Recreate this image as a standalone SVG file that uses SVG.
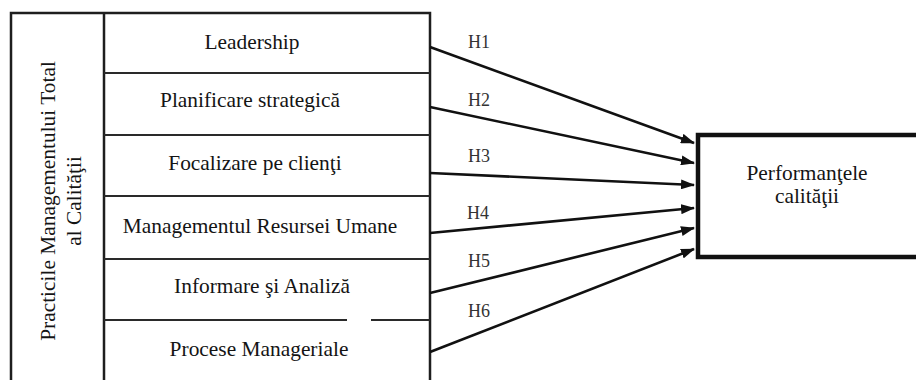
<svg xmlns="http://www.w3.org/2000/svg" width="916" height="380" viewBox="0 0 916 380">
  <style>
    .frame { fill: none; stroke: #1e1e1e; stroke-width: 2.5; }
    .div { stroke: #2a2a2a; stroke-width: 2.2; fill: none; }
    .lbl { font-family: 'Liberation Serif', 'DejaVu Serif', serif; font-size: 21.4px; fill: #141414; text-anchor: middle; }
    .hyp { font-family: 'Liberation Serif', 'DejaVu Serif', serif; font-size: 18px; fill: #333; }
    .arrow { stroke: #111; stroke-width: 2.6; fill: none; marker-end: url(#head); }
    .outbox { fill: #fff; stroke: #111; stroke-width: 4.5; }
  </style>
  <defs>
    <marker id="head" viewBox="0 0 14 10" refX="13" refY="5" markerWidth="14" markerHeight="10" markerUnits="userSpaceOnUse" orient="auto">
      <path d="M0,0 L14,5 L0,10 z" fill="#111"/>
    </marker>
  </defs>
  <rect width="916" height="380" fill="#fff"/>

  <!-- left construct: TQM practices -->
  <g id="tqm">
    <path class="frame" d="M11,380 V13 H430 V380 M104,13 V380"/>
    <text class="lbl" transform="translate(55,201) rotate(-90)">Practicile Managementului Total</text>
    <text class="lbl" transform="translate(81,201) rotate(-90)">al Calităţii</text>
  </g>

  <g id="leadership">
    <text class="lbl" x="252" y="49">Leadership</text>
  </g>
  <g id="planificare">
    <line class="div" x1="104" y1="73" x2="430" y2="73"/>
    <text class="lbl" x="250" y="107">Planificare strategică</text>
  </g>
  <g id="focalizare">
    <line class="div" x1="104" y1="135" x2="430" y2="135" stroke-width="3"/>
    <text class="lbl" x="255" y="170">Focalizare pe clienţi</text>
  </g>
  <g id="resurse">
    <line class="div" x1="104" y1="196" x2="430" y2="196"/>
    <text class="lbl" x="260" y="233">Managementul Resursei Umane</text>
  </g>
  <g id="informare">
    <line class="div" x1="104" y1="259" x2="430" y2="259"/>
    <text class="lbl" x="262" y="293">Informare şi Analiză</text>
  </g>
  <g id="procese">
    <line class="div" x1="104" y1="320" x2="347" y2="320"/>
    <line class="div" x1="371" y1="320" x2="430" y2="320"/>
    <text class="lbl" x="259" y="356">Procese Manageriale</text>
  </g>

  <!-- outcome -->
  <g id="performante">
    <path class="outbox" d="M920,135 H698 V257 H920"/>
    <text class="lbl" x="807" y="180">Performanţele</text>
    <text class="lbl" x="807" y="203">calităţii</text>
  </g>

  <!-- hypotheses H1..H6 -->
  <g id="connectors">
    <line class="arrow" x1="430" y1="47" x2="694" y2="143"/>
    <line class="arrow" x1="430" y1="107" x2="694" y2="163"/>
    <line class="arrow" x1="430" y1="173" x2="694" y2="185"/>
    <line class="arrow" x1="430" y1="233" x2="694" y2="208"/>
    <line class="arrow" x1="430" y1="293" x2="694" y2="228"/>
    <line class="arrow" x1="430" y1="352" x2="694" y2="249"/>
    <text class="hyp" x="468" y="48">H1</text>
    <text class="hyp" x="468" y="106">H2</text>
    <text class="hyp" x="468" y="162">H3</text>
    <text class="hyp" x="467" y="219">H4</text>
    <text class="hyp" x="468" y="267">H5</text>
    <text class="hyp" x="468" y="317">H6</text>
  </g>
</svg>
